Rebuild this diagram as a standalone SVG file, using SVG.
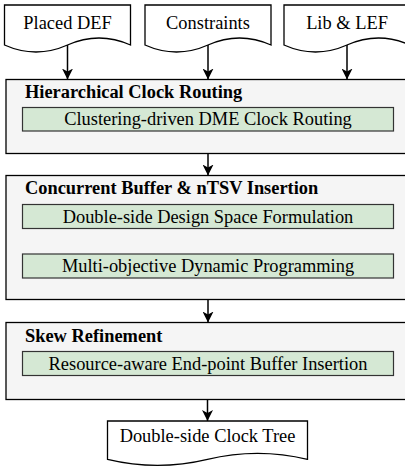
<svg xmlns="http://www.w3.org/2000/svg" width="405" height="468" viewBox="0 0 405 468" font-family="Liberation Serif, Times New Roman, serif">
<style>
.doc{fill:#ffffff;stroke:#000;stroke-width:1.3}
.stage{fill:#f5f5f5;stroke:#000;stroke-width:1.3}
.sub{fill:#d5e8d4;stroke:#333;stroke-width:1.2}
text{font-family:'Liberation Serif','Times New Roman',serif}
.t{font-size:18.4px;fill:#000;text-anchor:middle}
.h{font-size:18.4px;font-weight:bold;fill:#000}
.conn{stroke:#000;stroke-width:1.5;fill:none;marker-end:url(#arr)}
</style>
<defs>
<marker id="arr" markerUnits="userSpaceOnUse" markerWidth="11" markerHeight="11" viewBox="0 0 11 11" refX="11" refY="5.5" orient="auto">
<path d="M0,0 L11,5.5 L0,11 L3,5.5 Z" fill="#000"/>
</marker>
</defs>
<rect width="405" height="468" fill="#fff"/>

<g id="doc-def">
<path class="doc" d="M4.5,5 H130.5 V45 Q99,31 67.5,45 Q36,59 4.5,45 Z"/>
<text class="t" x="67.5" y="28.5">Placed DEF</text>
</g>
<g id="doc-constraints">
<path class="doc" d="M145,5 H271 V45 Q239.5,31 208,45 Q176.5,59 145,45 Z"/>
<text class="t" x="208" y="28.5">Constraints</text>
</g>
<g id="doc-lib">
<path class="doc" d="M284,5 H410 V45 Q378.5,31 347,45 Q315.5,59 284,45 Z"/>
<text class="t" x="347" y="28.5">Lib &amp; LEF</text>
</g>

<g id="stage-routing">
<rect class="stage" x="6" y="79.5" width="404" height="74"/>
<text class="h" x="25" y="97.5">Hierarchical Clock Routing</text>
<g id="sub-dme">
<rect class="sub" x="22.5" y="107.5" width="371" height="23.5"/>
<text class="t" x="208" y="125">Clustering-driven DME Clock Routing</text>
</g>
</g>

<g id="stage-insertion">
<rect class="stage" x="6" y="175.5" width="404" height="124"/>
<text class="h" x="25" y="194">Concurrent Buffer &amp; nTSV Insertion</text>
<g id="sub-space">
<rect class="sub" x="22.5" y="204.5" width="371" height="24"/>
<text class="t" x="208" y="222.5">Double-side Design Space Formulation</text>
</g>
<g id="sub-dp">
<rect class="sub" x="22.5" y="254" width="371" height="24"/>
<text class="t" x="208" y="272">Multi-objective Dynamic Programming</text>
</g>
</g>

<g id="stage-skew">
<rect class="stage" x="6" y="322.5" width="404" height="77"/>
<text class="h" x="25" y="341.5">Skew Refinement</text>
<g id="sub-endpoint">
<rect class="sub" x="22.5" y="351.5" width="371" height="24"/>
<text class="t" x="208" y="369.5">Resource-aware End-point Buffer Insertion</text>
</g>
</g>

<g id="doc-output">
<path class="doc" d="M107.5,421 H307.5 V459.3 Q257.5,447.3 207.5,459.3 Q157.5,471.3 107.5,459.3 Z"/>
<text class="t" x="207.5" y="442">Double-side Clock Tree</text>
</g>

<g id="connectors">
<line class="conn" x1="67.5" y1="45" x2="67.5" y2="79.5"/>
<line class="conn" x1="208" y1="45" x2="208" y2="79.5"/>
<line class="conn" x1="347" y1="45" x2="347" y2="79.5"/>
<line class="conn" x1="208" y1="153.5" x2="208" y2="175.5"/>
<line class="conn" x1="208" y1="299.5" x2="208" y2="322.5"/>
<line class="conn" x1="207.5" y1="399.5" x2="207.5" y2="421"/>
</g>
</svg>
